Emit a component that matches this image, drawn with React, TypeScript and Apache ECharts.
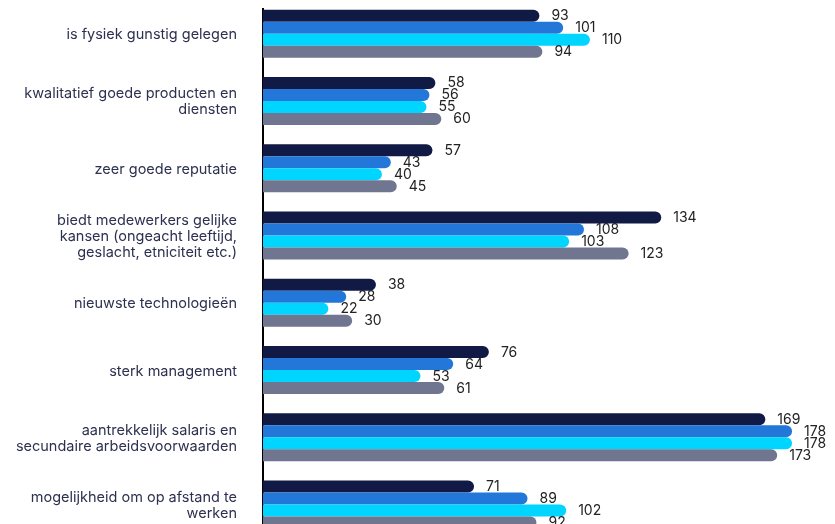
import React, { useEffect, useRef } from "react";
import * as echarts from "echarts";

const categories = [
  "is fysiek gunstig gelegen",
  "kwalitatief goede producten en\ndiensten",
  "zeer goede reputatie",
  "biedt medewerkers gelijke\nkansen (ongeacht leeftijd,\ngeslacht, etniciteit etc.)",
  "nieuwste technologieën",
  "sterk management",
  "aantrekkelijk salaris en\nsecundaire arbeidsvoorwaarden",
  "mogelijkheid om op afstand te\nwerken",
];

const series1 = [93, 58, 57, 134, 38, 76, 169, 71];
const series2 = [101, 56, 43, 108, 28, 64, 178, 89];
const series3 = [110, 55, 40, 103, 22, 53, 178, 102];
const series4 = [94, 60, 45, 123, 30, 61, 173, 92];

const colors = ["#111a45", "#2277d8", "#00d5ff", "#717690"];

export default function App() {
  const ref = useRef<HTMLDivElement>(null);
  useEffect(() => {
    if (!ref.current) return;
    const chart = echarts.init(ref.current, null, { renderer: "svg" });
    const mk = (data: number[], i: number) => ({
      type: "bar",
      data,
      barWidth: 12,
      barGap: "0%",
      itemStyle: { color: colors[i], borderRadius: [0, 6, 6, 0] },
      label: {
        show: true,
        position: "right",
        distance: 12,
        color: "#222222",
        fontSize: 14,
        fontFamily: "Inter",
        offset: [0, -1],
      },
    });
    chart.setOption({
      animation: false,
      grid: { left: 263, right: 37, top: -1.75, height: 540, containLabel: false },
      xAxis: {
        type: "value",
        min: 0,
        max: 180,
        show: false,
      },
      yAxis: {
        type: "category",
        inverse: true,
        data: categories,
        axisLine: { show: false },
        axisTick: { show: false },
        axisLabel: {
          margin: 26,
          color: "#2d3150",
          fontSize: 14.5,
          fontFamily: "Inter",
          lineHeight: 16,
          align: "right",
        },
      },
      graphic: [
        {
          type: "line",
          shape: { x1: 263, y1: 8, x2: 263, y2: 540 },
          style: { stroke: "#000000", lineWidth: 2 },
        },
      ],
      series: [mk(series1, 0), mk(series2, 1), mk(series3, 2), mk(series4, 3)],
    });
    return () => chart.dispose();
  }, []);
  return (
    <div
      ref={ref}
      style={{ position: "fixed", left: 0, top: 0, width: 835, height: 545 }}
    />
  );
}
